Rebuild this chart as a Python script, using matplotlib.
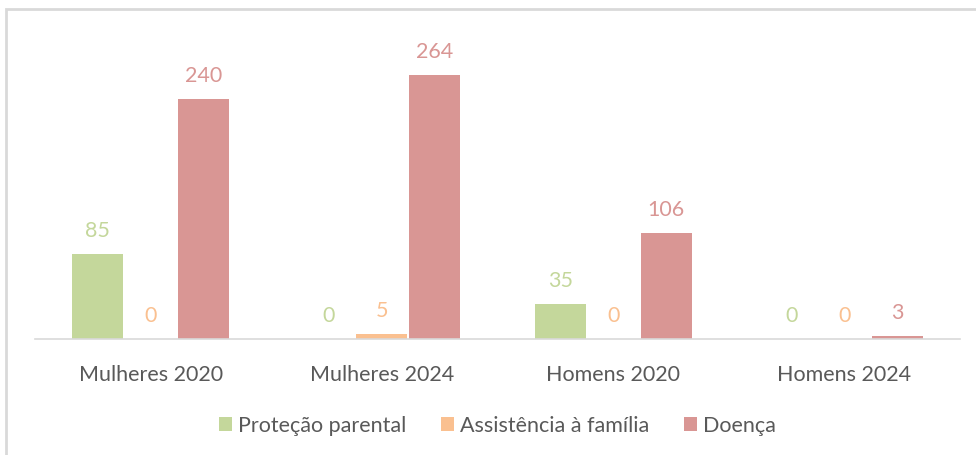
import matplotlib.pyplot as plt
import numpy as np
from matplotlib.patches import Rectangle

categories = ['Mulheres 2020', 'Mulheres 2024', 'Homens 2020', 'Homens 2024']
series_names = ['Proteção parental', 'Assistência à família', 'Doença']
protecao = [85, 0, 35, 0]
assistencia = [0, 5, 0, 0]
doenca = [240, 264, 106, 3]

colors = ['#C4D79B', '#FAC090', '#D99694']
text_color = '#595959'

plt.rcParams['font.family'] = ['Lato', 'DejaVu Sans']

fig = plt.figure(figsize=(9.76, 4.56), dpi=100)
ax = fig.add_axes([35 / 976, 1 - 340 / 456, 925 / 976, 300 / 456])

# light gray frame, only the left and top edges are inside the picture
fig.patches.append(Rectangle((6 / 976, -10 / 456), 1000 / 976, 456 / 456,
                             transform=fig.transFigure, fill=False,
                             edgecolor='#D9D9D9', linewidth=2))

x = np.arange(len(categories))
width = 0.229
for i, (vals, name) in enumerate(zip([protecao, assistencia, doenca], series_names)):
    pos = x + (i - 1) * width
    ax.bar(pos, vals, width * 0.965, color=colors[i], label=name)
    for p, v in zip(pos, vals):
        ax.text(p, v + 14, str(v), ha='center', va='bottom',
                color=colors[i], fontsize=15.5)

ax.set_xlim(-0.5, len(categories) - 0.5)
ax.set_ylim(0, 300)
ax.set_xticks(x)
ax.set_xticklabels(categories, fontsize=15.5, color=text_color)
ax.tick_params(axis='x', length=0, pad=18)
ax.set_yticks([])
for s in ['top', 'right', 'left']:
    ax.spines[s].set_visible(False)
ax.spines['bottom'].set_color('#D9D9D9')
ax.spines['bottom'].set_linewidth(1.2)

leg = ax.legend(loc='upper center', bbox_to_anchor=(0.5, -0.19), ncol=3,
                frameon=False, fontsize=15.5, handlelength=0.6,
                handleheight=0.6, handletextpad=0.3, columnspacing=1.6)
for t in leg.get_texts():
    t.set_color(text_color)

fig.savefig('out.png', dpi=100)
